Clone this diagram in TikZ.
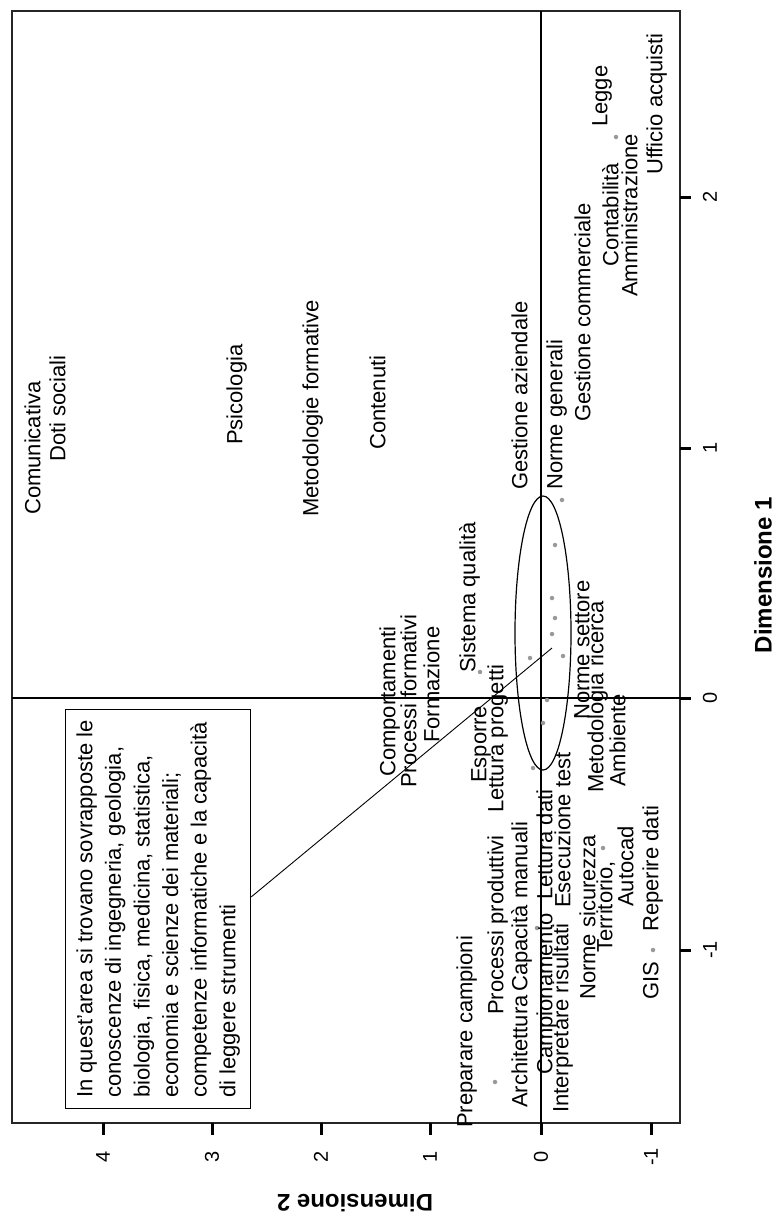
\documentclass[tikz,border=0pt]{standalone}
\usepackage{fontspec}
\setmainfont{Liberation Sans}
\begin{document}
\begin{tikzpicture}[x=1pt,y=-1pt,
  lab/.style={rotate=90, anchor=west, inner sep=0pt, font=\fontsize{22}{26}\selectfont, text height=15pt, text depth=4.5pt},
  pt/.style={circle, fill=black!40, inner sep=0pt, minimum size=4.5pt},
  tickmark/.style={line width=3pt},
  ticklab/.style={rotate=90, font=\fontsize{20}{24}\selectfont, inner sep=0pt},
  axistitle/.style={font=\bfseries\fontsize{24}{28}\selectfont, inner sep=0pt},
  framestyle/.style={line width=1.3pt, draw=black!85},
  refline/.style={line width=1.3pt, draw=black},
  note/.style={draw, line width=1.3pt, rotate=90, anchor=north west, align=left, inner sep=0pt,
     minimum width=399pt, minimum height=185pt, font=\fontsize{22}{28.6}\selectfont}
]
\useasboundingbox (0,0) rectangle (776,1220);
% frame
\draw[framestyle] (12,11) rectangle (680,1123);
% reference lines
\draw[refline] (541,11) -- (541,1123);
\draw[refline] (12,698) -- (680,698);
% ticks right (Dimensione 1)
\foreach \yy/\lab in {197/2, 448/1, 698/0, 950/-1}{
  \draw[tickmark] (680,\yy) -- (691,\yy);
  \node[ticklab] at (710,\yy) {\lab};
}
% ticks bottom (Dimensione 2)
\foreach \xx/\lab in {103/4, 212/3, 321/2, 430/1, 541/0, 651/-1}{
  \draw[tickmark] (\xx,1123) -- (\xx,1135);
  \node[ticklab] at (\xx,1157) {\lab};
}
\node[axistitle, rotate=90] (t1) at (763,575) {Dimensione 1};
\node[axistitle, rotate=180] (t2) at (355,1203) {Dimensione 2};

% points
\node[pt] (p1) at (616,137) {};
\node[pt] (p2) at (562,500) {};
\node[pt] (p3) at (555,545) {};
\node[pt] (p4) at (552,598) {};
\node[pt] (p5) at (555,618) {};
\node[pt] (p6) at (552,634) {};
\node[pt] (p7) at (563,656) {};
\node[pt] (p8) at (530,658) {};
\node[pt] (p9) at (547,700) {};
\node[pt] (p10) at (543,723) {};
\node[pt] (p11) at (533,768) {};
\node[pt] (p12) at (480,672) {};
\node[pt] (p13) at (576,715) {};
\node[pt] (p14) at (495,1082) {};
\node[pt] (p15) at (603,848) {};
\node[pt] (p16) at (653,950) {};
\node[pt] (p17) at (537,928) {};

% ellipse
\draw[line width=1.2pt] (543,633) ellipse [x radius=28, y radius=137];

% labels
\node[lab] (l1) at (35,515) {Comunicativa};
\node[lab] (l2) at (60,462) {Doti sociali};
\node[lab] (l3) at (237,445) {Psicologia};
\node[lab] (l4) at (313,517) {Metodologie formative};
\node[lab] (l5) at (380,450) {Contenuti};
\node[lab] (l6) at (522,490) {Gestione aziendale};
\node[lab] (l7) at (557,490) {Norme generali};
\node[lab] (l8) at (585,422) {Gestione commerciale};
\node[lab] (l9) at (613,267) {Contabilità};
\node[lab] (l10) at (632,297) {Amministrazione};
\node[lab] (l11) at (602,127) {Legge};
\node[lab] (l12) at (657,175) {Ufficio acquisti};
\node[lab] (l13) at (390,777) {Comportamenti};
\node[lab] (l14) at (411,788) {Processi formativi};
\node[lab] (l15) at (434,743) {Formazione};
\node[lab] (l16) at (470,673) {Sistema qualità};
\node[lab] (l17) at (481,783) {Esporre};
\node[lab] (l18) at (498,813) {Lettura progetti};
\node[lab] (l19) at (584,720) {Norme settore};
\node[lab] (l20) at (598,793) {Metodologia ricerca};
\node[lab] (l21) at (620,787) {Ambiente};
\node[lab] (l22) at (498,1015) {Processi produttivi};
\node[lab] (l23) at (467,1128) {Preparare campioni};
\node[lab] (l24) at (522,1108) {Architettura};
\node[lab] (l25) at (522,992) {Capacità manuali};
\node[lab] (l26) at (547,1075) {Campionamento};
\node[lab] (l27) at (547,900) {Lettura dati};
\node[lab] (l28) at (563,1113) {Interpretare risultati};
\node[lab] (l29) at (565,908) {Esecuzione test};
\node[lab] (l30) at (590,1000) {Norme sicurezza};
\node[lab] (l31) at (607,953) {Territorio,};
\node[lab] (l32) at (628,907) {Autocad};
\node[lab] (l33) at (653,1000) {GIS};
\node[lab] (l34) at (653,932) {Reperire dati};

% note box
\node[note] (box) at (65,1109) {In quest'area si trovano sovrapposte le\\conoscenze di ingegneria, geologia,\\biologia, fisica, medicina, statistica,\\economia e scienze dei materiali;\\competenze informatiche e la capacità\\di leggere strumenti};
\coordinate (tip) at (552,648);
\draw[line width=0.9pt] ([yshift=12pt]box.south) -- (tip);
\end{tikzpicture}
\end{document}
